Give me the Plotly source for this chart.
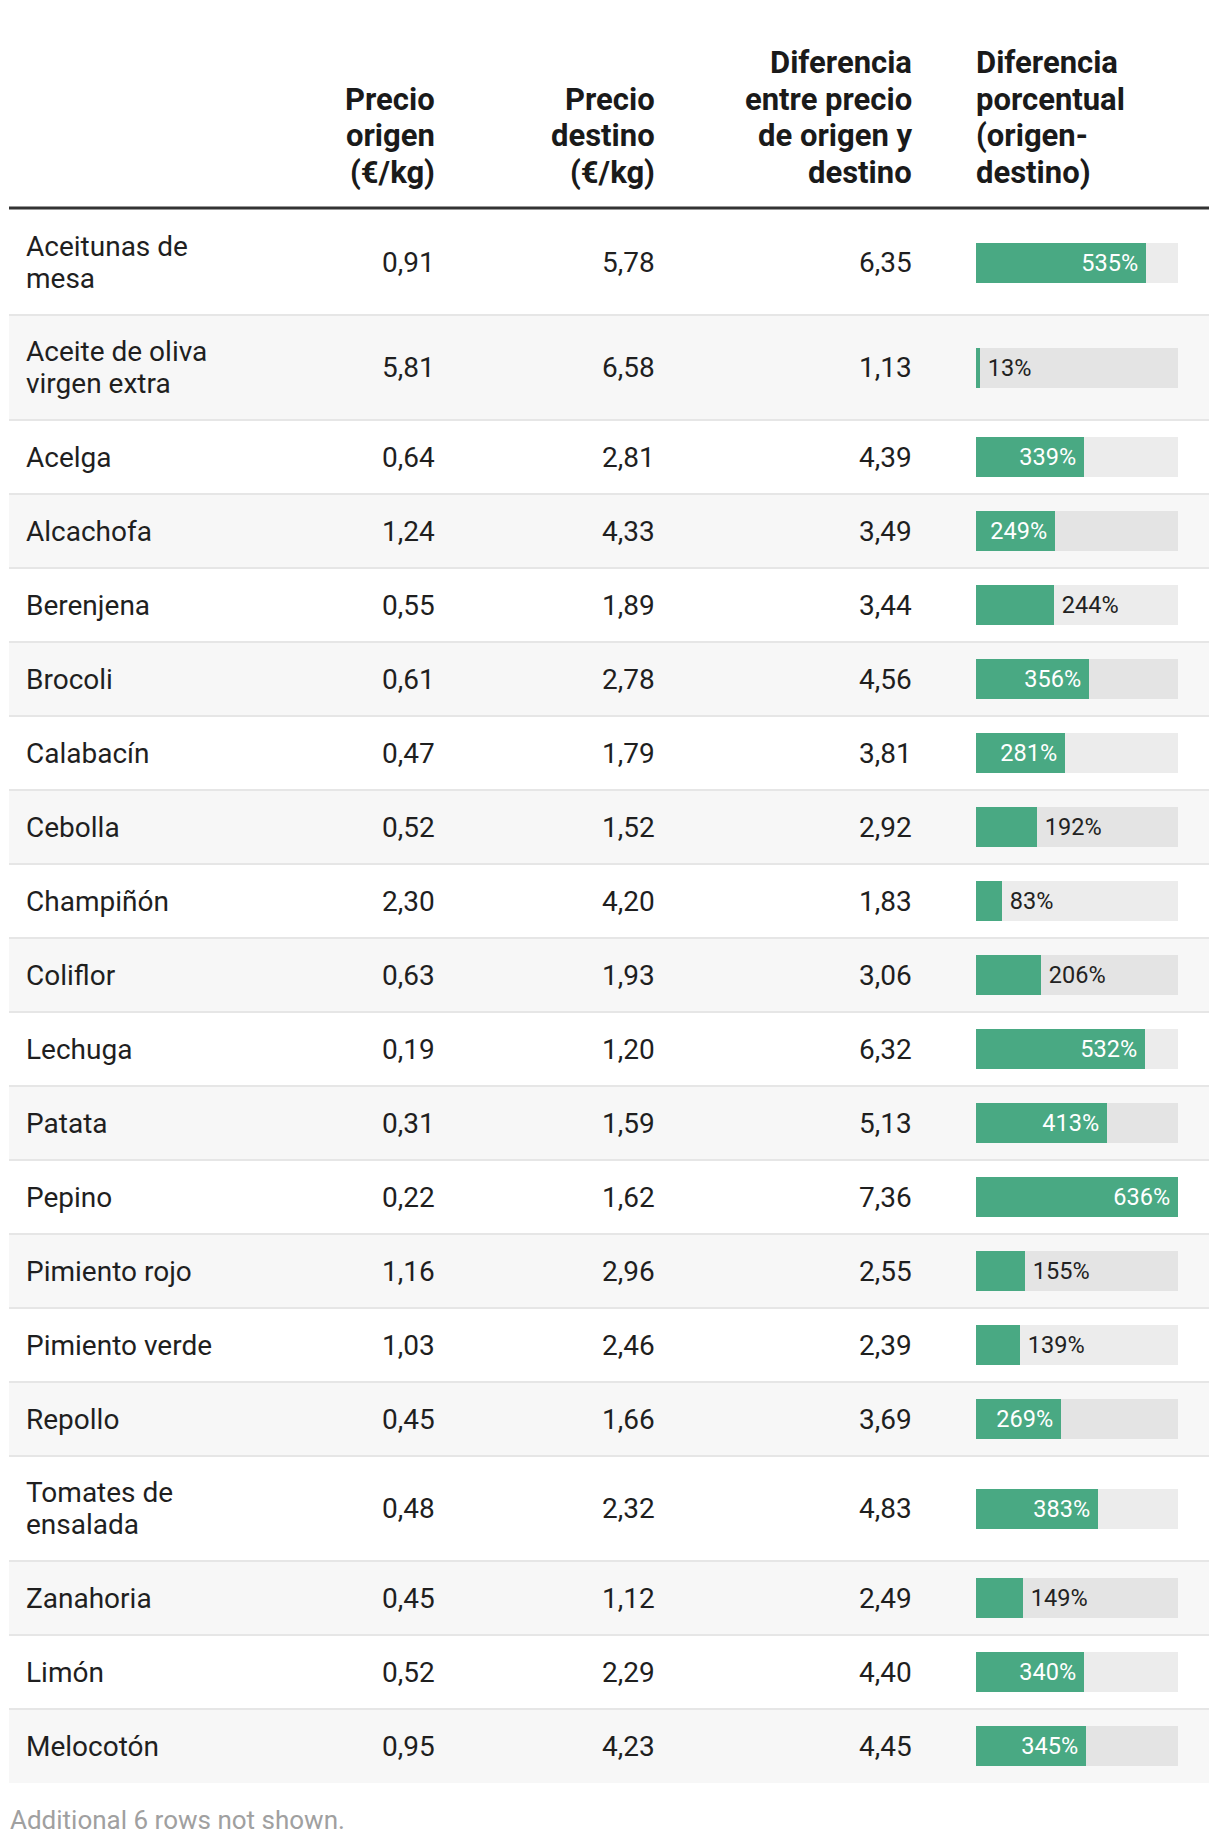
import textwrap
import plotly.graph_objects as go

# ---------------- data ----------------
productos = ["Aceitunas de mesa", "Aceite de oliva virgen extra", "Acelga", "Alcachofa",
             "Berenjena", "Brocoli", "Calabacín", "Cebolla", "Champiñón", "Coliflor",
             "Lechuga", "Patata", "Pepino", "Pimiento rojo", "Pimiento verde", "Repollo",
             "Tomates de ensalada", "Zanahoria", "Limón", "Melocotón"]
precio_origen = [0.91, 5.81, 0.64, 1.24, 0.55, 0.61, 0.47, 0.52, 2.30, 0.63,
                 0.19, 0.31, 0.22, 1.16, 1.03, 0.45, 0.48, 0.45, 0.52, 0.95]
precio_destino = [5.78, 6.58, 2.81, 4.33, 1.89, 2.78, 1.79, 1.52, 4.20, 1.93,
                  1.20, 1.59, 1.62, 2.96, 2.46, 1.66, 2.32, 1.12, 2.29, 4.23]
diferencia = [6.35, 1.13, 4.39, 3.49, 3.44, 4.56, 3.81, 2.92, 1.83, 3.06,
              6.32, 5.13, 7.36, 2.55, 2.39, 3.69, 4.83, 2.49, 4.40, 4.45]
diferencia_pct = [535, 13, 339, 249, 244, 356, 281, 192, 83, 206,
                  532, 413, 636, 155, 139, 269, 383, 149, 340, 345]
column_headers = [["Precio", "origen", "(€/kg)"], ["Precio", "destino", "(€/kg)"],
                  ["Diferencia", "entre precio", "de origen y", "destino"],
                  ["Diferencia", "porcentual", "(origen-", "destino)"]]
footer_note = "Additional 6 rows not shown."

# ---------------- layout constants ----------------
W, H = 1220, 1844
FONT = "Roboto, 'Open Sans', sans-serif"
TXT = "#1f1f1f"
GREEN = "#49a983"
TABLE_L, TABLE_R = 9, 1209
NAME_X = 24
COL_RIGHT = [437, 657, 914]
BAR_L, BAR_R = 976, 1178
ROW_TOP = 210
ROW_H1 = 74
ROW_EXTRA = 31
BODY_SIZE = 28
BODY_LS = 32
HEAD_SIZE = 31
HEAD_LS = 36.4
BAR_SIZE = 23.5
THIN = "\u2009"

def fmt(v):
    return f"{v:.2f}".replace(".", ",")

wrapped = [textwrap.wrap(p, 15) for p in productos]
heights = [ROW_H1 + ROW_EXTRA * (len(w) - 1) for w in wrapped]
tops, centers = [], []
y = ROW_TOP
for h in heights:
    tops.append(y)
    centers.append(y + h / 2)
    y += h

fig = go.Figure()

shapes = []
annotations = []

# zebra rows + separators
for i, (t, h) in enumerate(zip(tops, heights)):
    if i % 2 == 1:
        shapes.append(dict(type="rect", xref="x", yref="y", x0=TABLE_L, x1=TABLE_R,
                           y0=t, y1=t + h, fillcolor="#f7f7f7", line_width=0, layer="below"))
    if i > 0:
        shapes.append(dict(type="line", xref="x", yref="y", x0=TABLE_L, x1=TABLE_R,
                           y0=t, y1=t, line=dict(color="#e6e6e6", width=2), layer="below"))
# header rule
shapes.append(dict(type="line", xref="x", yref="y", x0=TABLE_L, x1=TABLE_R,
                   y0=ROW_TOP - 2, y1=ROW_TOP - 2, line=dict(color="#333333", width=3)))

# bars
max_pct = max(diferencia_pct)
fig.add_trace(go.Bar(
    y=centers, x=[max_pct] * len(diferencia_pct), orientation="h",
    xaxis="x2", yaxis="y", width=40, marker=dict(color="rgba(0,0,0,0.075)", line_width=0),
    hoverinfo="skip", showlegend=False))
inside = [v >= 245 for v in diferencia_pct]
text_pos = ["inside" if ins else "outside" for ins in inside]
labels = [(f"{v}%{THIN}" if ins else f"{THIN}{v}%") for v, ins in zip(diferencia_pct, inside)]
fig.add_trace(go.Bar(
    y=centers, x=diferencia_pct, orientation="h",
    xaxis="x2", yaxis="y", width=40, marker=dict(color=GREEN, line_width=0),
    text=labels, textposition=text_pos,
    insidetextanchor="end", constraintext="none", cliponaxis=False,
    insidetextfont=dict(color="white", size=BAR_SIZE, family=FONT),
    outsidetextfont=dict(color="#222222", size=BAR_SIZE, family=FONT),
    hoverinfo="skip", showlegend=False))

def add_lines(lines, x, cy, ls, xanchor, size, color, bold=False):
    n = len(lines)
    for k, line in enumerate(lines):
        ly = cy + (k - (n - 1) / 2) * ls
        f = dict(family=FONT, size=size, color=color)
        if bold:
            f["weight"] = "bold"
        annotations.append(dict(x=x, y=ly, xref="x", yref="y", text=line,
                                xanchor=xanchor, yanchor="middle", showarrow=False, font=f))

# header texts
last_line_y = 172
for j, hl in enumerate(column_headers):
    n = len(hl)
    cy = last_line_y - (n - 1) * HEAD_LS / 2
    if j < 3:
        add_lines(hl, COL_RIGHT[j], cy, HEAD_LS, "right", HEAD_SIZE, "#1a1a1a", True)
    else:
        add_lines(hl, BAR_L - 2, cy, HEAD_LS, "left", HEAD_SIZE, "#1a1a1a", True)

# body texts
for i in range(len(productos)):
    cy = centers[i]
    add_lines(wrapped[i], NAME_X, cy, BODY_LS, "left", BODY_SIZE, TXT)
    for xr, vals in zip(COL_RIGHT, [precio_origen, precio_destino, diferencia]):
        add_lines([fmt(vals[i])], xr, cy, BODY_LS, "right", BODY_SIZE, TXT)

# footer
annotations.append(dict(x=TABLE_L - 1, y=1820, xref="x", yref="y", text=footer_note,
                        xanchor="left", yanchor="middle", showarrow=False,
                        font=dict(family=FONT, size=26, color="#a0a0a0")))

fig.update_layout(
    width=W, height=H, margin=dict(l=0, r=0, t=0, b=0),
    paper_bgcolor="white", plot_bgcolor="rgba(0,0,0,0)",
    barmode="overlay", bargap=0,
    xaxis=dict(range=[0, W], domain=[0, 1], visible=False, fixedrange=True),
    xaxis2=dict(range=[0, max_pct], domain=[BAR_L / W, BAR_R / W], anchor="y",
                visible=False, fixedrange=True),
    yaxis=dict(range=[H, 0], domain=[0, 1], visible=False, fixedrange=True),
    shapes=shapes, annotations=annotations,
    font=dict(family=FONT),
)

fig.write_html("out.html", config={"displayModeBar": False},
               post_script="document.body.style.margin='0';")
